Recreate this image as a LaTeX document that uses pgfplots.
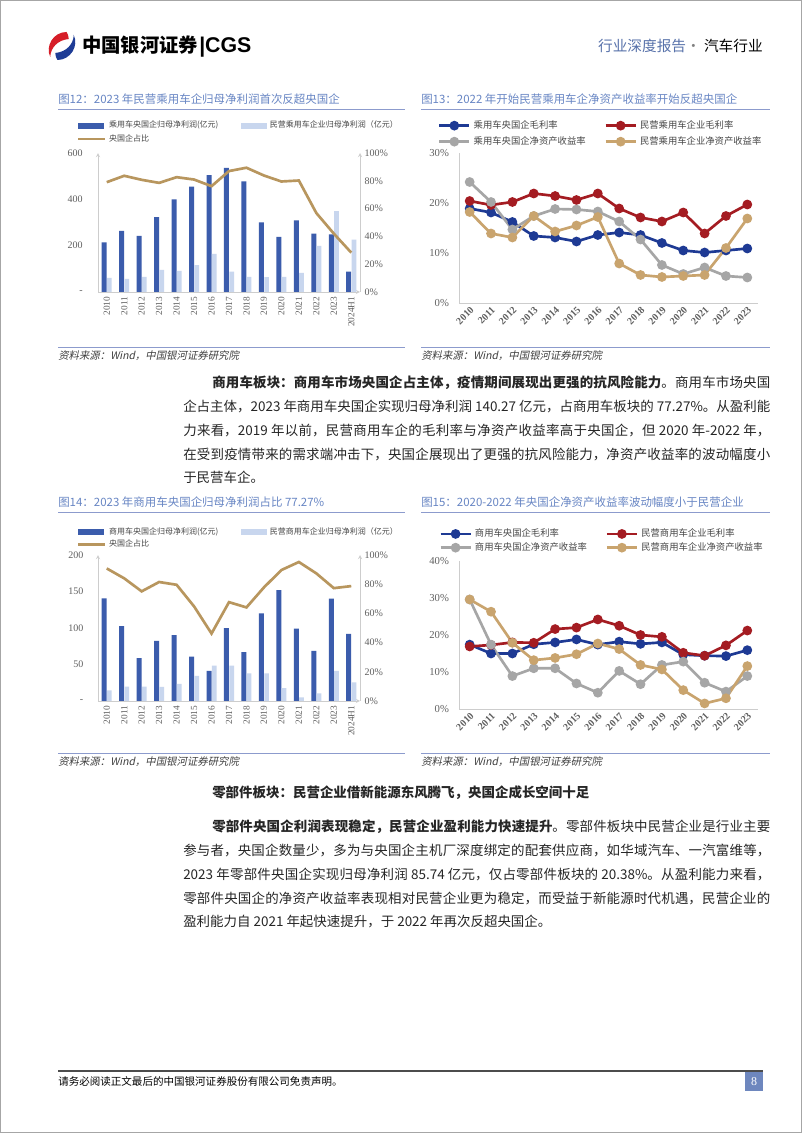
\documentclass[border=0pt]{standalone}
\usepackage{fontspec}
\usepackage{pgfplots}
\pgfplotsset{compat=1.18}
\setmainfont{Liberation Serif}
\newfontfamily\cjk{Noto Sans CJK SC}
\newfontfamily\cjkit[FakeSlant=0.2]{Noto Sans CJK SC}
\newfontfamily\sans{Liberation Sans}
\XeTeXlinebreaklocale "zh"
\XeTeXlinebreakskip=0pt plus 1.2pt minus 0.3pt
\pgfplotsset{/pgf/number format/assume math mode=true}
\definecolor{darkbar}{RGB}{59,92,172}
\definecolor{lightbar}{RGB}{200,214,238}
\definecolor{goldA}{RGB}{184,150,94}
\definecolor{navy}{RGB}{30,58,148}
\definecolor{wine}{RGB}{164,28,34}
\definecolor{grayL}{RGB}{166,166,166}
\definecolor{goldB}{RGB}{201,164,110}
\definecolor{titleblue}{RGB}{104,134,196}
\definecolor{ruleblue}{RGB}{140,155,205}
\definecolor{axisgray}{RGB}{205,205,205}
\definecolor{labelgray}{RGB}{95,95,95}
\definecolor{legendgray}{RGB}{70,70,70}
\definecolor{hdrblue}{RGB}{88,114,170}
\definecolor{logored}{RGB}{214,30,40}
\definecolor{logoblue}{RGB}{30,60,150}
\definecolor{pagebox}{RGB}{110,135,190}
\pgfplotsset{
  barlegend/.style={legend columns=2, legend cell align=left,
    legend style={draw=none, fill=none, inner sep=0pt, outer sep=0pt, anchor=north west,
      font=\cjk\fontsize{6pt}{7pt}\selectfont, text=legendgray, row sep=4.3pt,
      nodes={inner sep=0pt, text height=4.5pt, text depth=1.2pt},
      /tikz/every odd column/.append style={column sep=2.25pt},
      /tikz/every even column/.append style={column sep=0pt}}},
  linelegend/.style={legend columns=2, legend cell align=left,
    legend style={draw=none, fill=none, inner sep=0pt, outer sep=0pt, anchor=north west,
      font=\cjk\fontsize{7pt}{8pt}\selectfont, text=legendgray, row sep=#1,
      nodes={inner sep=0pt, text height=5.3pt, text depth=1.4pt},
      /tikz/every odd column/.append style={column sep=2.25pt},
      /tikz/every even column/.append style={column sep=3pt}}},
  barbase/.style={scale only axis, anchor=south west, width=196.5pt,
    xmin=-0.5, xmax=14.5, major tick length=0pt,
    axis line style={draw=axisgray,-}},
  linebase/.style={scale only axis, anchor=south west, width=224.25pt,
    xmin=2009.5, xmax=2023.5, major tick length=0pt,
    axis x line=bottom, axis y line=left, axis line style={draw=axisgray,-},
    xtick={2010,2011,2012,2013,2014,2015,2016,2017,2018,2019,2020,2021,2022,2023},
    /pgf/number format/1000 sep={},
    xticklabel style={rotate=45, anchor=north east, inner sep=1.5pt, font=\bfseries\fontsize{7.5pt}{9pt}\selectfont, text=labelgray},
    yticklabel style={font=\fontsize{8pt}{9pt}\selectfont, text=labelgray, xshift=-4pt},
    clip=false,
    every axis plot/.append style={line width=2pt, mark=*, mark size=2.6pt, mark options={line width=0.4pt, solid}},
    legend image code/.code={\draw[##1, mark repeat=2, mark phase=2] plot coordinates {(0pt,0pt) (11.25pt,0pt) (22.5pt,0pt)};}},
}
\begin{document}
\begin{tikzpicture}[x=0.75pt,y=0.75pt]
\fill[white] (0,0) rectangle (802,1133);
\draw[gray!70, line width=0.75pt] (0.5,0.5) rectangle (801.5,1132.5);
% ---- header
\begin{scope}[shift={(62,1133-46)}, xslant=0.25]
\fill[logored] (1,14) .. controls (-12,14) and (-17,0) .. (-9,-11) .. controls (-11,-2) and (-6,6) .. (5,7) .. controls (4,10) and (3,12) .. cycle;
\fill[logoblue] (-1,-14) .. controls (12,-14) and (17,0) .. (9,11) .. controls (11,2) and (6,-6) .. (-5,-7) .. controls (-4,-10) and (-3,-12) .. cycle;
\end{scope}
\node[anchor=base west, inner sep=0pt, font=\cjk\bfseries\fontsize{14.5pt}{16pt}\selectfont] at (82,1133-53) {中国银河证券};
\node[anchor=base west, inner sep=0pt, font=\sans\bfseries\fontsize{16pt}{18pt}\selectfont] at (199,1133-53) {|CGS};
\node[anchor=base east, inner sep=0pt, font=\cjk\fontsize{11pt}{13pt}\selectfont] at (763,1133-52) {\textcolor{hdrblue}{行业深度报告}\textcolor{gray}{ · }汽车行业};
% ---- figure titles & rules
\node[anchor=base west, inner sep=0pt, font=\cjk\fontsize{8.6pt}{10pt}\selectfont, text=titleblue] at (58,1133-104) {图12：2023 年民营乘用车企归母净利润首次反超央国企};
\node[anchor=base west, inner sep=0pt, font=\cjk\fontsize{8.6pt}{10pt}\selectfont, text=titleblue] at (421,1133-104) {图13：2022 年开始民营乘用车企净资产收益率开始反超央国企};
\draw[ruleblue, line width=1pt] (58,1133-109.5) -- (405,1133-109.5);
\draw[ruleblue, line width=1pt] (421,1133-109.5) -- (770,1133-109.5);
\draw[ruleblue, line width=0.6pt] (58,1133-347) -- (405,1133-347);
\draw[ruleblue, line width=0.6pt] (421,1133-347) -- (770,1133-347);
\node[anchor=base west, inner sep=0pt, font=\cjkit\fontsize{7.8pt}{9pt}\selectfont, text=black!75] at (58,1133-360) {资料来源：Wind，中国银河证券研究院};
\node[anchor=base west, inner sep=0pt, font=\cjkit\fontsize{7.8pt}{9pt}\selectfont, text=black!75] at (421,1133-360) {资料来源：Wind，中国银河证券研究院};
\node[anchor=base west, inner sep=0pt, font=\cjk\fontsize{8.6pt}{10pt}\selectfont, text=titleblue] at (58,1133-507) {图14：2023 年商用车央国企归母净利润占比 77.27\%};
\node[anchor=base west, inner sep=0pt, font=\cjk\fontsize{8.6pt}{10pt}\selectfont, text=titleblue] at (421,1133-507) {图15：2020-2022 年央国企净资产收益率波动幅度小于民营企业};
\draw[ruleblue, line width=1pt] (58,1133-512.5) -- (405,1133-512.5);
\draw[ruleblue, line width=1pt] (421,1133-512.5) -- (770,1133-512.5);
\draw[ruleblue, line width=0.6pt] (58,1133-753) -- (405,1133-753);
\draw[ruleblue, line width=0.6pt] (421,1133-753) -- (770,1133-753);
\node[anchor=base west, inner sep=0pt, font=\cjkit\fontsize{7.8pt}{9pt}\selectfont, text=black!75] at (58,1133-766) {资料来源：Wind，中国银河证券研究院};
\node[anchor=base west, inner sep=0pt, font=\cjkit\fontsize{7.8pt}{9pt}\selectfont, text=black!75] at (421,1133-766) {资料来源：Wind，中国银河证券研究院};
% ---- body text
\node[anchor=base west, inner sep=0pt, text width=440.25pt, align=justify, font=\cjk\fontsize{10.1pt}{17.8pt}\selectfont, text=black!85] at (183,1133-388) {\hspace*{21.75pt}{\bfseries 商用车板块：商用车市场央国企占主体，疫情期间展现出更强的抗风险能力}。商用车市场央国\linebreak 企占主体，2023 年商用车央国企实现归母净利润 140.27 亿元，占商用车板块的 77.27\%。从盈利能\linebreak 力来看，2019 年以前，民营商用车企的毛利率与净资产收益率高于央国企，但 2020 年-2022 年，\linebreak 在受到疫情带来的需求端冲击下，央国企展现出了更强的抗风险能力，净资产收益率的波动幅度小\linebreak 于民营车企。};
\node[anchor=base west, inner sep=0pt, font=\cjk\bfseries\fontsize{10.1pt}{12pt}\selectfont, text=black!85] at (212,1133-798) {零部件板块：民营企业借新能源东风腾飞，央国企成长空间十足};
\node[anchor=base west, inner sep=0pt, text width=440.25pt, align=justify, font=\cjk\fontsize{10.1pt}{17.8pt}\selectfont, text=black!85] at (183,1133-832) {\hspace*{21.75pt}{\bfseries 零部件央国企利润表现稳定，民营企业盈利能力快速提升}。零部件板块中民营企业是行业主要\linebreak 参与者，央国企数量少，多为与央国企主机厂深度绑定的配套供应商，如华域汽车、一汽富维等，\linebreak 2023 年零部件央国企实现归母净利润 85.74 亿元，仅占零部件板块的 20.38\%。从盈利能力来看，\linebreak 零部件央国企的净资产收益率表现相对民营企业更为稳定，而受益于新能源时代机遇，民营企业的\linebreak 盈利能力自 2021 年起快速提升，于 2022 年再次反超央国企。};
% ---- footer
\draw[black!70, line width=0.9pt] (58,1133-1071) -- (763,1133-1071);
\node[anchor=base west, inner sep=0pt, font=\cjk\fontsize{7.9pt}{9pt}\selectfont] at (58,1133-1086) {请务必阅读正文最后的中国银河证券股份有限公司免责声明。};
\fill[pagebox] (745,1133-1072) rectangle (763,1133-1091);
\node[text=white, inner sep=0pt, font=\fontsize{9pt}{10pt}\selectfont] at (754,1133-1081.5) {8};

% ================= Chart 1 =================
\begin{axis}[barbase, at={(73.5pt,630.75pt)}, height=104.25pt,
  ymin=0, ymax=600, axis x line=bottom, axis y line=left,
  xtick={0,1,2,3,4,5,6,7,8,9,10,11,12,13,14},
  xticklabels={2010,2011,2012,2013,2014,2015,2016,2017,2018,2019,2020,2021,2022,2023,2024H1},
  xticklabel style={rotate=90, anchor=east, font=\fontsize{7pt}{8pt}\selectfont, text=labelgray},
  ytick={0,200,400,600}, yticklabels={{-\hspace{-4pt}},200,400,600},
  yticklabel style={font=\fontsize{7.5pt}{9pt}\selectfont, text=labelgray, xshift=-8pt}]
\addplot[ybar, bar width=3.75pt, bar shift=-1.9pt, fill=darkbar, draw=none] coordinates {(0,214)(1,264)(2,242)(3,323)(4,400)(5,455)(6,504)(7,536)(8,477)(9,301)(10,238)(11,309)(12,252)(13,249)(14,88)};
\addplot[ybar, bar width=3.5pt, bar shift=2.0pt, fill=lightbar, draw=none] coordinates {(0,61)(1,57)(2,65)(3,96)(4,91)(5,116)(6,165)(7,88)(8,65)(9,64)(10,65)(11,83)(12,199)(13,349)(14,226)};
\end{axis}
\begin{axis}[barbase, at={(73.5pt,630.75pt)}, height=104.25pt,
  ymin=0, ymax=100, axis x line=none, axis y line=right,
  ytick={0,20,40,60,80,100}, yticklabels={0\%,20\%,40\%,60\%,80\%,100\%},
  yticklabel style={font=\fontsize{7.5pt}{9pt}\selectfont, text=labelgray},
  barlegend, legend style={at={(-0.0813,1.224)}}]
\addlegendimage{legend image code/.code={\fill[darkbar] (0pt,-1.9pt) rectangle (19pt,1.9pt);}}
\addlegendentry{\makebox[99pt][l]{乘用车央国企归母净利润(亿元)}}
\addlegendimage{legend image code/.code={\fill[lightbar] (0pt,-1.9pt) rectangle (19pt,1.9pt);}}
\addlegendentry{民营乘用车企业归母净利润（亿元）}
\addplot[goldA, line width=2pt, legend image code/.code={\draw[goldA, line width=2pt] (0pt,0pt) -- (20pt,0pt);}] coordinates {(0,79.0)(1,83.6)(2,80.7)(3,78.5)(4,82.6)(5,80.9)(6,76.1)(7,87.0)(8,89.4)(9,83.8)(10,79.5)(11,80.2)(12,56.8)(13,42.0)(14,28.3)};
\addlegendentry{央国企占比}
\end{axis}

% ================= Chart 2 =================
\begin{axis}[linebase, at={(344.25pt,622.5pt)}, height=112.5pt,
  ymin=0, ymax=30, ytick={0,10,20,30}, yticklabels={0\%,10\%,20\%,30\%},
  linelegend=5.3pt, legend style={at={(-0.0702,1.212)}}]
\addplot[navy, mark options={fill=navy}] coordinates {(2010,18.9)(2011,18.1)(2012,16.2)(2013,13.4)(2014,13.1)(2015,12.3)(2016,13.6)(2017,14.1)(2018,13.6)(2019,12.0)(2020,10.5)(2021,10.1)(2022,10.5)(2023,10.9)};
\addlegendentry{\makebox[95pt][l]{乘用车央国企毛利率}}
\addplot[wine, mark options={fill=wine}] coordinates {(2010,20.4)(2011,19.6)(2012,20.2)(2013,21.9)(2014,21.4)(2015,20.6)(2016,21.9)(2017,18.9)(2018,17.1)(2019,16.3)(2020,18.1)(2021,13.9)(2022,17.4)(2023,19.7)};
\addlegendentry{民营乘用车企业毛利率}
\addplot[grayL, mark options={fill=grayL}] coordinates {(2010,24.2)(2011,20.2)(2012,14.7)(2013,17.4)(2014,18.8)(2015,18.7)(2016,18.3)(2017,16.3)(2018,12.7)(2019,7.6)(2020,5.8)(2021,7.1)(2022,5.4)(2023,5.1)};
\addlegendentry{\makebox[95pt][l]{乘用车央国企净资产收益率}}
\addplot[goldB, mark options={fill=goldB}] coordinates {(2010,18.2)(2011,13.9)(2012,13.1)(2013,17.4)(2014,14.3)(2015,15.5)(2016,17.2)(2017,7.9)(2018,5.6)(2019,5.2)(2020,5.4)(2021,5.6)(2022,11.0)(2023,16.9)};
\addlegendentry{民营乘用车企业净资产收益率}
\end{axis}

% ================= Chart 3 =================
\begin{axis}[barbase, at={(73.5pt,324pt)}, height=109.5pt,
  ymin=0, ymax=200, axis x line=bottom, axis y line=left,
  xtick={0,1,2,3,4,5,6,7,8,9,10,11,12,13,14},
  xticklabels={2010,2011,2012,2013,2014,2015,2016,2017,2018,2019,2020,2021,2022,2023,2024H1},
  xticklabel style={rotate=90, anchor=east, font=\fontsize{7pt}{8pt}\selectfont, text=labelgray},
  ytick={0,50,100,150,200}, yticklabels={-,50,100,150,200},
  yticklabel style={font=\fontsize{7.5pt}{9pt}\selectfont, text=labelgray, xshift=-7.5pt}]
\addplot[ybar, bar width=3.75pt, bar shift=-1.9pt, fill=darkbar, draw=none] coordinates {(0,140.5)(1,102.5)(2,58.6)(3,82.4)(4,90.2)(5,60.9)(6,41.2)(7,99.8)(8,66.8)(9,119.9)(10,151.9)(11,99.3)(12,68.6)(13,140.3)(14,92.0)};
\addplot[ybar, bar width=3.5pt, bar shift=2.0pt, fill=lightbar, draw=none] coordinates {(0,14.6)(1,19.7)(2,19.7)(3,19.2)(4,23.3)(5,34.3)(6,48.5)(7,48.5)(8,38.0)(9,38.0)(10,17.8)(11,5.0)(12,10.5)(13,41.3)(14,25.6)};
\end{axis}
\begin{axis}[barbase, at={(73.5pt,324pt)}, height=109.5pt,
  ymin=0, ymax=100, axis x line=none, axis y line=right,
  ytick={0,20,40,60,80,100}, yticklabels={0\%,20\%,40\%,60\%,80\%,100\%},
  yticklabel style={font=\fontsize{7.5pt}{9pt}\selectfont, text=labelgray},
  barlegend, legend style={at={(-0.0813,1.182)}, row sep=3.3pt}]
\addlegendimage{legend image code/.code={\fill[darkbar] (0pt,-1.9pt) rectangle (19pt,1.9pt);}}
\addlegendentry{\makebox[99pt][l]{商用车央国企归母净利润(亿元)}}
\addlegendimage{legend image code/.code={\fill[lightbar] (0pt,-1.9pt) rectangle (19pt,1.9pt);}}
\addlegendentry{民营商用车企业归母净利润（亿元）}
\addplot[goldA, line width=2pt, legend image code/.code={\draw[goldA, line width=2pt] (0pt,0pt) -- (20pt,0pt);}] coordinates {(0,90.8)(1,84.0)(2,75.1)(3,81.5)(4,79.6)(5,64.8)(6,46.2)(7,67.7)(8,64.1)(9,77.8)(10,89.7)(11,95.2)(12,87.4)(13,77.3)(14,78.7)};
\addlegendentry{央国企占比}
\end{axis}

% ================= Chart 4 =================
\begin{axis}[linebase, at={(344.25pt,318pt)}, height=111pt,
  ymin=0, ymax=40, ytick={0,10,20,30,40}, yticklabels={0\%,10\%,20\%,30\%,40\%},
  linelegend=3.6pt, legend style={at={(-0.066,1.213)}}]
\addplot[navy, mark options={fill=navy}] coordinates {(2010,17.4)(2011,15.0)(2012,15.0)(2013,17.5)(2014,18.0)(2015,18.8)(2016,17.4)(2017,18.2)(2018,17.6)(2019,18.0)(2020,14.7)(2021,14.4)(2022,14.3)(2023,15.9)};
\addlegendentry{\makebox[95pt][l]{商用车央国企毛利率}}
\addplot[wine, mark options={fill=wine}] coordinates {(2010,16.9)(2011,17.3)(2012,18.0)(2013,17.9)(2014,21.6)(2015,22.0)(2016,24.2)(2017,22.5)(2018,20.0)(2019,19.5)(2020,15.2)(2021,14.4)(2022,17.2)(2023,21.2)};
\addlegendentry{民营商用车企业毛利率}
\addplot[grayL, mark options={fill=grayL}] coordinates {(2010,29.6)(2011,17.4)(2012,8.9)(2013,11.0)(2014,11.0)(2015,6.9)(2016,4.4)(2017,10.3)(2018,6.7)(2019,11.9)(2020,12.8)(2021,7.1)(2022,4.7)(2023,8.9)};
\addlegendentry{\makebox[95pt][l]{商用车央国企净资产收益率}}
\addplot[goldB, mark options={fill=goldB}] coordinates {(2010,29.6)(2011,26.3)(2012,17.9)(2013,13.2)(2014,13.8)(2015,14.8)(2016,17.7)(2017,16.2)(2018,11.9)(2019,10.7)(2020,5.1)(2021,1.5)(2022,2.9)(2023,11.6)};
\addlegendentry{民营商用车企业净资产收益率}
\end{axis}
\pgfresetboundingbox
\useasboundingbox (0,0) rectangle (802,1133);
\end{tikzpicture}
\end{document}
